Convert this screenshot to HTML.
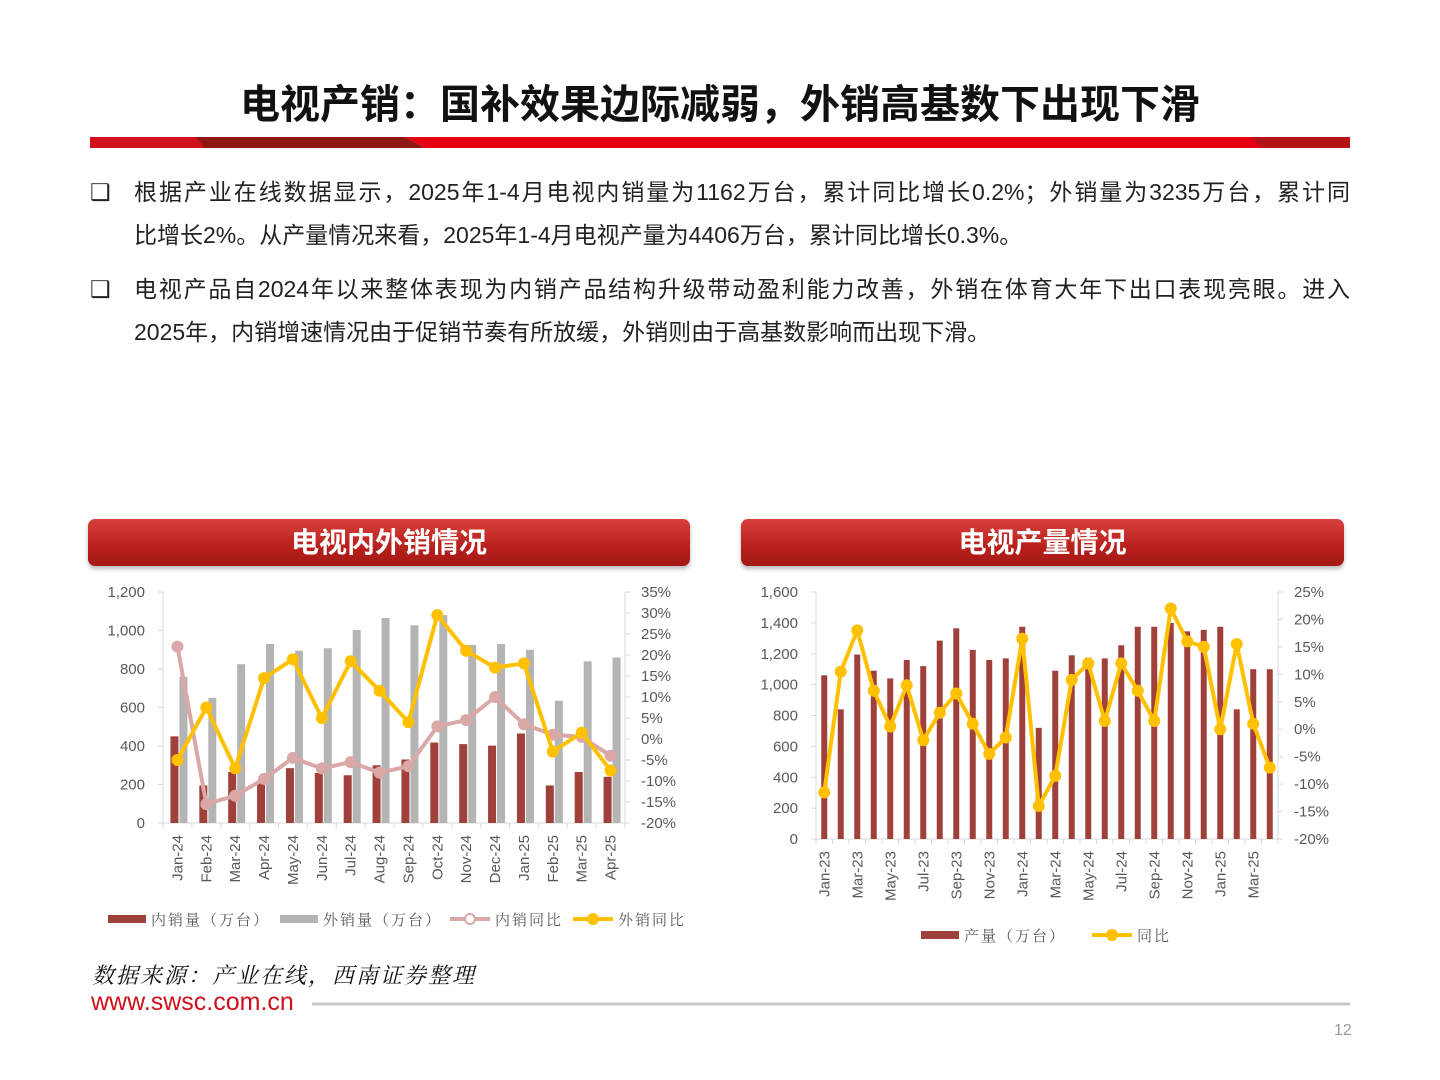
<!DOCTYPE html>
<html><head><meta charset="utf-8">
<style>
body{margin:0;background:#fff;}
#page{position:relative;width:1440px;height:1080px;overflow:hidden;background:#fff;font-family:"Liberation Sans","Noto Sans CJK SC",sans-serif;}
.t{position:absolute;}
.ln{text-align:justify;text-align-last:justify;white-space:nowrap;}
.ll{white-space:nowrap;}
</style></head><body>
<div id="page">
<div class="t" style="left:0;width:1440px;top:72px;text-align:center;font-size:40px;font-weight:bold;color:#111;font-family:'Noto Sans CJK SC','Liberation Sans',sans-serif;">电视产销：国补效果边际减弱，外销高基数下出现下滑</div>
<svg class="t" style="left:0;top:0" width="1440" height="1080">
<polygon points="90,137 200,137 206,148 90,148" fill="#d0101c"/>
<polygon points="196,137 405,137 425,148 205,148" fill="#8e1714"/>
<polygon points="405,137 1350,137 1350,148 425,148" fill="#e50012"/>
<polygon points="1250,137 1350,137 1350,148 1262,148" fill="#a8181a" opacity="0.8"/>
<line x1="312" y1="1004" x2="1350" y2="1004" stroke="#c8c8c8" stroke-width="3"/>
</svg>
<div class="t" style="left:90px;top:171px;width:1260px;font-size:23px;line-height:43px;color:#222;">
<span style="position:absolute;left:0;top:0">❑</span><div style="margin-left:44px"><div class="ln">根据产业在线数据显示，2025年1-4月电视内销量为1162万台，累计同比增长0.2%；外销量为3235万台，累计同</div><div class="ll">比增长2%。从产量情况来看，2025年1-4月电视产量为4406万台，累计同比增长0.3%。</div></div></div>
<div class="t" style="left:90px;top:268px;width:1260px;font-size:23px;line-height:43px;color:#222;">
<span style="position:absolute;left:0;top:0">❑</span><div style="margin-left:44px"><div class="ln">电视产品自2024年以来整体表现为内销产品结构升级带动盈利能力改善，外销在体育大年下出口表现亮眼。进入</div><div class="ll">2025年，内销增速情况由于促销节奏有所放缓，外销则由于高基数影响而出现下滑。</div></div></div>
<div class="t" style="left:88px;top:519px;width:602px;height:47px;border-radius:7px;background:linear-gradient(#d8403c,#b8201c 60%,#a31815);box-shadow:0 3px 4px #bbb;color:#fff;font-weight:bold;font-size:28px;text-align:center;line-height:48px;">电视内外销情况</div>
<div class="t" style="left:741px;top:519px;width:603px;height:47px;border-radius:7px;background:linear-gradient(#d8403c,#b8201c 60%,#a31815);box-shadow:0 3px 4px #bbb;color:#fff;font-weight:bold;font-size:28px;text-align:center;line-height:48px;">电视产量情况</div>
<svg id="c1" class="t" style="left:0;top:0" width="1440" height="1080"></svg>
<div class="t" style="left:92px;top:959px;font-size:22px;letter-spacing:2px;font-style:italic;font-family:'Liberation Serif','Noto Serif CJK SC',serif;color:#111;">数据来源：产业在线，西南证券整理</div>
<div class="t" style="left:91px;top:988px;font-size:25px;color:#d0101c;">www.swsc.com.cn</div>
<div class="t" style="left:1334px;top:1022px;font-size:16px;color:#999;">12</div>
</div>
<script>
const cat1=["Jan-24","Feb-24","Mar-24","Apr-24","May-24","Jun-24","Jul-24","Aug-24","Sep-24","Oct-24","Nov-24","Dec-24","Jan-25","Feb-25","Mar-25","Apr-25"];
const domVol=[450,195,265,215,285,260,248,300,330,418,410,402,465,195,265,240];
const expVol=[760,650,825,930,895,908,1003,1065,1027,1080,925,930,900,635,840,860];
const domYoY=[22,-15.5,-13.5,-9.5,-4.5,-7,-5.5,-8,-6.5,3,4.5,10,3.5,1,0.5,-4];
const expYoY=[-5,7.5,-7,14.5,19,5,18.5,11.5,4,29.5,21,17,18,-3,1.5,-7.5];
const leftTicks1=[0,200,400,600,800,1000,1200];
const rightTicks1=[-20,-15,-10,-5,0,5,10,15,20,25,30,35];
const cat2=["Jan-23","Feb-23","Mar-23","Apr-23","May-23","Jun-23","Jul-23","Aug-23","Sep-23","Oct-23","Nov-23","Dec-23","Jan-24","Feb-24","Mar-24","Apr-24","May-24","Jun-24","Jul-24","Aug-24","Sep-24","Oct-24","Nov-24","Dec-24","Jan-25","Feb-25","Mar-25","Apr-25"];
const prodVol=[1060,840,1195,1090,1040,1160,1120,1285,1365,1225,1160,1170,1375,720,1090,1190,1175,1170,1255,1375,1375,1400,1345,1355,1375,840,1100,1100];
const prodYoY=[-11.5,10.5,18,7,0.5,8,-2,3,6.5,1,-4.5,-1.5,16.5,-14,-8.5,9,12,1.5,12,7,1.5,22,16,15,0,15.5,1,-7];
const leftTicks2=[0,200,400,600,800,1000,1200,1400,1600];
const rightTicks2=[-20,-15,-10,-5,0,5,10,15,20,25];
const svg=document.getElementById('c1');const NS='http://www.w3.org/2000/svg';
function mk(tag,a,txt){const e=document.createElementNS(NS,tag);for(const k in a)e.setAttribute(k,a[k]);if(txt!==undefined)e.textContent=txt;svg.appendChild(e);return e;}
const F='"Liberation Sans","Noto Sans CJK SC",sans-serif';
function chart(o){
 const {x0,x1,y0,y1,lmin,lmax,rmin,rmax,cats}=o;
 const n=cats.length,bw=(x1-x0)/n;
 const yl=v=>y0-(v-lmin)/(lmax-lmin)*(y0-y1);
 const yr=v=>y0-(v-rmin)/(rmax-rmin)*(y0-y1);
 const xc=i=>x0+bw*(i+0.5);
 let e=mk('line',{x1:x0,y1:y1,x2:x0,y2:y0,stroke:'#d9d9d9'});
 
 e=mk('line',{x1:x0,y1:y0,x2:x1,y2:y0,stroke:'#d9d9d9'});
 
 e=mk('line',{x1:x1,y1:y1,x2:x1,y2:y0,stroke:'#d9d9d9'});
 
 o.lt.forEach(v=>{e=mk('text',{x:x0-18,y:yl(v)+5,'text-anchor':'end','font-size':15,fill:'#595959','font-family':F},v.toLocaleString('en-US'));
  
  mk('line',{x1:x0-5,x2:x0,y1:yl(v),y2:yl(v),stroke:'#d9d9d9'});});
 o.rt.forEach(v=>{e=mk('text',{x:x1+16,y:yr(v)+5,'font-size':15,fill:'#595959','font-family':F},v+'%');
  
  mk('line',{x1:x1,x2:x1+5,y1:yr(v),y2:yr(v),stroke:'#d9d9d9'});});
 for(let i=0;i<=n;i++){mk('line',{x1:x0+bw*i,x2:x0+bw*i,y1:y0,y2:y0+5,stroke:'#d9d9d9'});}
 cats.forEach((c,i)=>{if(i%o.step)return;const x=xc(i)+5;
  e=mk('text',{x:0,y:0,transform:`translate(${x},${y0+12}) rotate(-90)`,'text-anchor':'end','font-size':15,fill:'#595959','font-family':F},c);
  });
 o.bars.forEach(b=>{b.data.forEach((v,i)=>{
  e=mk('rect',{x:xc(i)+b.off,y:yl(v),width:b.w,height:y0-yl(v),fill:b.color});
  });});
 o.lines.forEach(l=>{
  e=mk('polyline',{points:l.data.map((v,i)=>xc(i)+','+yr(v)).join(' '),fill:'none',stroke:l.color,'stroke-width':4,'stroke-linejoin':'round'});
  
  l.data.forEach((v,i)=>{e=mk('circle',{cx:xc(i),cy:yr(v),r:6,fill:l.color});
   });});
}
chart({x0:163,x1:625,y0:823,y1:592,lmin:0,lmax:1200,rmin:-20,rmax:35,cats:cat1,lt:leftTicks1,rt:rightTicks1,step:1,
 bars:[{data:domVol,off:-7,w:8,color:'#a0403a',name:'domestic-volume-bar'},{data:expVol,off:2,w:8,color:'#b4b4b4',name:'export-volume-bar'}],
 lines:[{data:domYoY,color:'#dba8a8',name:'domestic-yoy'},{data:expYoY,color:'#ffc000',name:'export-yoy'}]});
chart({x0:816,x1:1278,y0:839,y1:592,lmin:0,lmax:1600,rmin:-20,rmax:25,cats:cat2,lt:leftTicks2,rt:rightTicks2,step:2,
 bars:[{data:prodVol,off:-3,w:6,color:'#a0403a',name:'production-bar'}],
 lines:[{data:prodYoY,color:'#ffc000',name:'production-yoy'}]});
function leg(x,y,type,color,label,name){let e;
 if(type==='bar'){e=mk('rect',{x:x,y:y-4,width:38,height:8,fill:color});}
 else{mk('line',{x1:x,x2:x+40,y1:y,y2:y,stroke:color,'stroke-width':4});e=mk('circle',{cx:x+20,cy:y,r:5,fill:type==='hollow'?'#fff':color,stroke:color,'stroke-width':2});}
 
 e=mk('text',{x:x+(type==='bar'?43:45),y:y+6,'font-size':15,fill:'#595959','font-family':'"Liberation Serif","Noto Serif CJK SC",serif','letter-spacing':'2'},label);
 }
leg(108,919,'bar','#a0403a','内销量（万台）','legend-domestic-volume');
leg(280,919,'bar','#b4b4b4','外销量（万台）','legend-export-volume');
leg(450,919,'hollow','#dba8a8','内销同比','legend-domestic-yoy');
leg(573,919,'line','#ffc000','外销同比','legend-export-yoy');
leg(921,935,'bar','#a0403a','产量（万台）','legend-production');
leg(1092,935,'line','#ffc000','同比','legend-production-yoy');
</script>
</body></html>
